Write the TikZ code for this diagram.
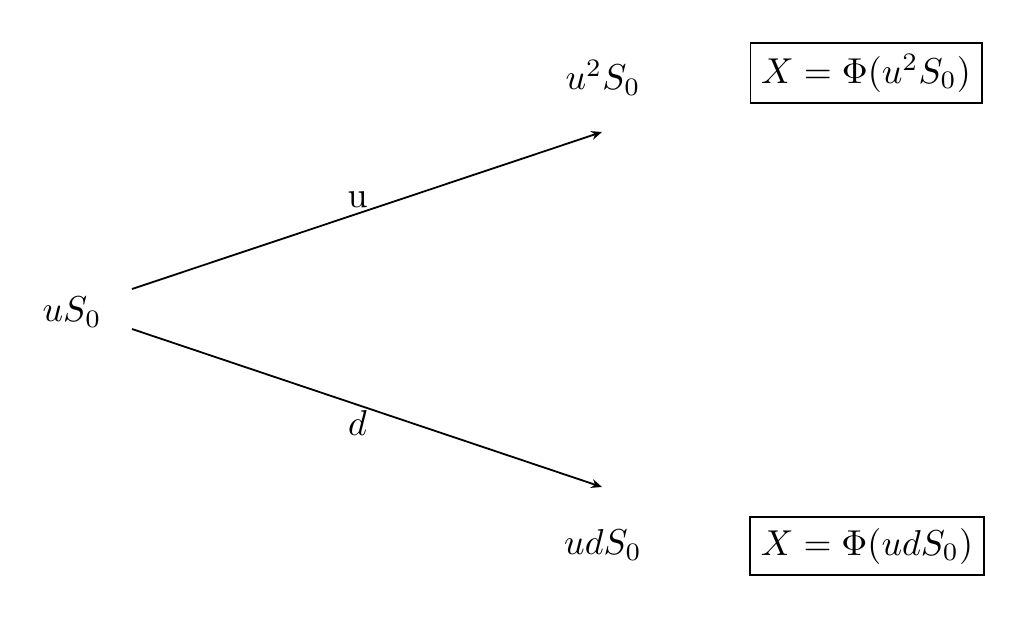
\documentclass[tikz,border=0pt]{standalone}
\usetikzlibrary{arrows.meta}
\begin{document}
\begin{tikzpicture}[x=0.2778pt,y=-0.2778pt,
  lbl/.style={inner sep=1pt},
  pay/.style={draw,inner sep=3pt,line width=0.5pt},
  edge/.style={-{Stealth[length=3pt,width=2.5pt]},line width=0.5pt}]
\useasboundingbox (0,0) rectangle (1032,618);
\node[lbl] (s) at (72,312) {$uS_0$};
\node[lbl] (uu) at (603,78) {$u^2S_0$};
\node[lbl] (ud) at (603,545) {$udS_0$};
\node[pay] (p1) at (866,73) {$X=\Phi(u^2S_0)$};
\node[pay] (p2) at (867,546) {$X=\Phi(udS_0)$};
\coordinate (s1) at (132,289);
\coordinate (s2) at (132,329);
\coordinate (e1) at (602,132);
\coordinate (e2) at (602,487);
\draw[edge] (s1) -- node[pos=0.48,above,yshift=-2pt] (lu) {$\mathrm{u}$} (e1);
\draw[edge] (s2) -- node[pos=0.48,below,yshift=2pt] (ld) {$d$} (e2);
\end{tikzpicture}
\end{document}
